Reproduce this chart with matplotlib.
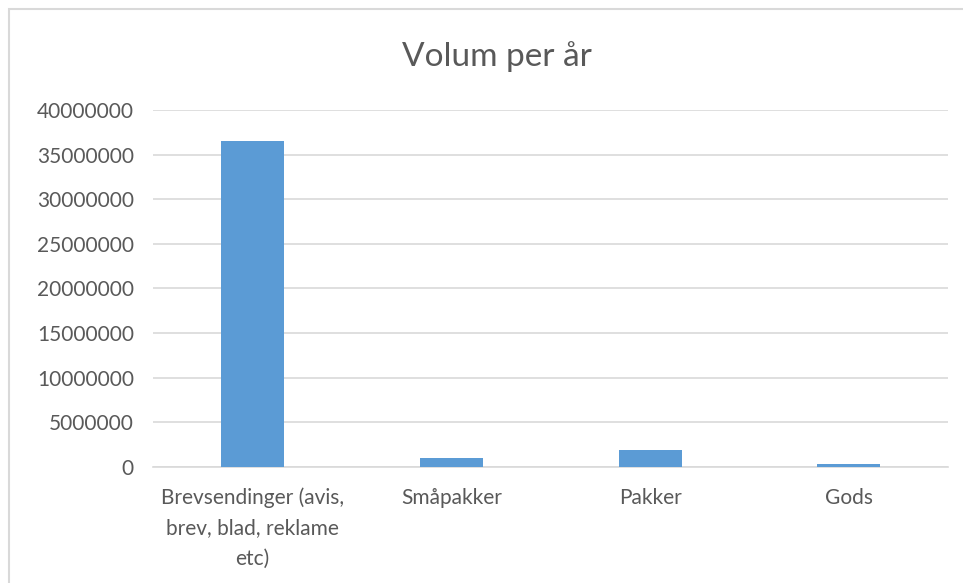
import matplotlib.pyplot as plt
from matplotlib.patches import Rectangle
from matplotlib.ticker import MultipleLocator, FuncFormatter

# Volume per category
categories = ['Brevsendinger (avis,\nbrev, blad, reklame\netc)', 'Småpakker', 'Pakker', 'Gods']
volumes = [36500000, 980000, 1840000, 300000]

W, H = 963, 583
plt.rcParams['font.family'] = ['Lato', 'DejaVu Sans']

fig = plt.figure(figsize=(W / 100, H / 100), dpi=100)
ax = fig.add_axes([153.3 / W, 1 - 466.7 / H, 795 / W, 356.7 / H])

x = range(len(categories))
ax.bar(x, volumes, width=0.317, color='#5b9bd5', zorder=3)

ax.set_xlim(-0.5, len(categories) - 0.5)
ax.set_ylim(0, 40000000)
ax.yaxis.set_major_locator(MultipleLocator(5000000))
ax.yaxis.set_major_formatter(FuncFormatter(lambda v, p: f'{int(v)}'))
ax.grid(axis='y', color='#d9d9d9', linewidth=1.2, zorder=0)
ax.set_axisbelow(True)

for side in ['top', 'right', 'left']:
    ax.spines[side].set_visible(False)
ax.spines['bottom'].set_color('#d9d9d9')
ax.spines['bottom'].set_linewidth(1.2)

ax.set_xticks(list(x))
ax.set_xticklabels(categories, linespacing=1.64)
ax.tick_params(axis='both', length=0, labelsize=15, labelcolor='#595959')
ax.tick_params(axis='y', pad=14)
ax.tick_params(axis='x', pad=15)

fig.text(497 / W, 1 - 57 / H, 'Volum per år', ha='center', va='center',
         fontsize=24, color='#595959')

# chart frame
fig.add_artist(Rectangle((8.5 / W, -0.1), 1.2, 1 - 9.5 / H + 0.1,
                         transform=fig.transFigure, fill=False,
                         edgecolor='#d9d9d9', linewidth=1.5))

fig.savefig('out.png', dpi=100)
